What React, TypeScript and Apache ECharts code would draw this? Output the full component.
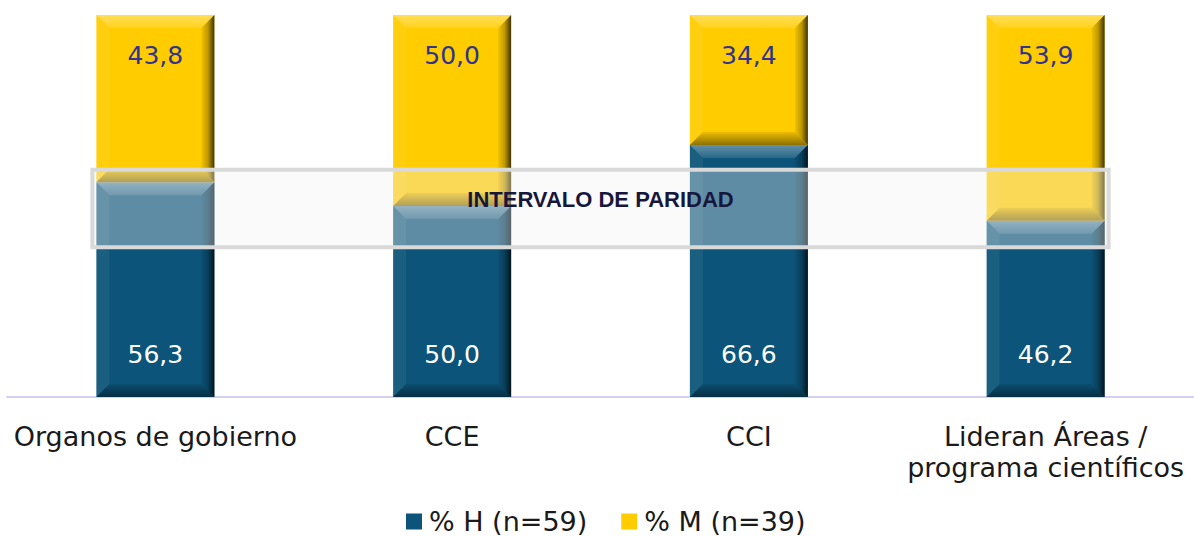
import React, { useEffect, useRef } from "react";
import * as echarts from "echarts";

const categories = [
  "Organos de gobierno",
  "CCE",
  "CCI",
  "Lideran Áreas /\nprograma científicos",
];
const hombres = [56.3, 50.0, 66.6, 46.2];
const mujeres = [43.8, 50.0, 34.4, 53.9];
const seriesNames = ["% H (n=59)", "% M (n=39)"];
const paridadMin = 40;
const paridadMax = 60;
const paridadText = "INTERVALO DE PARIDAD";

const BLUE = "#0c5479";
const YELLOW = "#ffcc00";
const BAR_W = 118;
const BEV = 13;

function fmt(v: number) {
  return v.toFixed(1).replace(".", ",");
}

export default function App() {
  const ref = useRef<HTMLDivElement>(null);
  useEffect(() => {
    if (!ref.current) return;
    const chart = echarts.init(ref.current, null, { renderer: "svg" });

    const totals = hombres.map((h, i) => h + mujeres[i]);
    const hN = hombres.map((h, i) => (h / totals[i]) * 100);
    const mN = mujeres.map((m, i) => (m / totals[i]) * 100);

    const segs: number[][] = [];
    categories.forEach((_, i) => {
      segs.push([i, 0, hN[i]]);
      segs.push([i, hN[i], hN[i] + mN[i]]);
    });

    const LG = echarts.graphic.LinearGradient;

    const bevelRender = (params: any, api: any) => {
      const i = api.value(0);
      const p0 = api.coord([i, api.value(1)]);
      const p1 = api.coord([i, api.value(2)]);
      const x = p0[0] - BAR_W / 2;
      const w = BAR_W;
      const y = p1[1];
      const h = p0[1] - p1[1];
      const b = Math.min(BEV, h / 2);
      return {
        type: "group",
        children: [
          {
            type: "polygon",
            shape: { points: [[x, y], [x + w, y], [x + w - b, y + b], [x + b, y + b]] },
            style: {
              fill: new LG(0, 0, 0, 1, [
                { offset: 0, color: "rgba(255,255,255,0.35)" },
                { offset: 1, color: "rgba(255,255,255,0.12)" },
              ]),
            },
          },
          {
            type: "polygon",
            shape: { points: [[x, y], [x + b, y + b], [x + b, y + h - b], [x, y + h]] },
            style: { fill: "rgba(255,255,255,0.06)" },
          },
          {
            type: "polygon",
            shape: { points: [[x, y + h], [x + w, y + h], [x + w - b, y + h - b], [x + b, y + h - b]] },
            style: {
              fill: new LG(0, 0, 0, 1, [
                { offset: 0, color: "rgba(0,0,0,0.08)" },
                { offset: 1, color: "rgba(0,0,0,0.45)" },
              ]),
            },
          },
          {
            type: "polygon",
            shape: { points: [[x + w, y], [x + w, y + h], [x + w - b, y + h - b], [x + w - b, y + b]] },
            style: {
              fill: new LG(0, 0, 1, 0, [
                { offset: 0, color: "rgba(0,0,0,0.05)" },
                { offset: 0.5, color: "rgba(0,0,0,0.25)" },
                { offset: 1, color: "rgba(0,0,0,0.75)" },
              ]),
            },
          },
        ],
      };
    };

    const paridadRender = (params: any, api: any) => {
      const pa = api.coord([0, api.value(0)]);
      const pb = api.coord([categories.length - 1, api.value(1)]);
      const x0 = pa[0] - BAR_W / 2 - 4;
      const x1 = pb[0] + BAR_W / 2 + 4;
      const yTop = pb[1] + 2;
      const yBot = pa[1] + 3;
      return {
        type: "group",
        children: [
          {
            type: "rect",
            shape: { x: x0, y: yTop, width: x1 - x0, height: yBot - yTop },
            style: { fill: "rgba(242,242,242,0.36)", stroke: "#d9d9d9", lineWidth: 4 },
          },
          {
            type: "text",
            style: {
              text: paridadText,
              x: (x0 + x1) / 2,
              y: (yTop + yBot) / 2 - 9,
              fill: "#17173d",
              font: "bold 22px 'Liberation Sans', Arial, sans-serif",
              align: "center",
              verticalAlign: "middle",
            },
          },
        ],
      };
    };

    chart.setOption({
      animation: false,
      grid: { left: 7, right: 0, top: 15, bottom: 139, containLabel: false },
      legend: {
        left: 401,
        top: 503,
        itemWidth: 16,
        itemHeight: 16,
        itemGap: 34,
        icon: "rect",
        data: seriesNames,
        textStyle: {
          fontFamily: "'DejaVu Sans', Verdana, sans-serif",
          fontSize: 27,
          color: "#1a1a1a",
          padding: [0, 0, 0, 2],
        },
      },
      xAxis: {
        type: "category",
        data: categories,
        axisLine: { show: true, lineStyle: { color: "#d4d0f2", width: 2 } },
        axisTick: { show: false },
        axisLabel: {
          interval: 0,
          margin: 24,
          fontFamily: "'DejaVu Sans', Verdana, sans-serif",
          fontSize: 27,
          lineHeight: 31,
          color: "#1a1a1a",
        },
      },
      yAxis: { type: "value", min: 0, max: 100, show: false, splitLine: { show: false } },
      series: [
        {
          name: seriesNames[0],
          type: "bar",
          stack: "total",
          barWidth: BAR_W,
          data: hN,
          itemStyle: { color: BLUE },
          z: 2,
          label: {
            show: true,
            position: "insideBottom",
            distance: 30,
            formatter: (p: any) => fmt(hombres[p.dataIndex]),
            color: "#ffffff",
            fontFamily: "'DejaVu Sans', Verdana, sans-serif",
            fontSize: 25,
          },
        },
        {
          name: seriesNames[1],
          type: "bar",
          stack: "total",
          barWidth: BAR_W,
          data: mN,
          itemStyle: { color: YELLOW },
          z: 2,
          label: {
            show: true,
            position: "insideTop",
            distance: 28,
            formatter: (p: any) => fmt(mujeres[p.dataIndex]),
            color: "#2f3490",
            fontFamily: "'DejaVu Sans', Verdana, sans-serif",
            fontSize: 25,
          },
        },
        {
          type: "custom",
          renderItem: bevelRender,
          data: segs,
          encode: { x: 0, y: [1, 2] },
          clip: false,
          silent: true,
          z: 3,
        },
        {
          type: "custom",
          renderItem: paridadRender,
          data: [[paridadMin, paridadMax]],
          encode: { y: [0, 1] },
          clip: false,
          silent: true,
          z: 5,
        },
      ],
    });
    return () => chart.dispose();
  }, []);
  return (
    <div
      ref={ref}
      style={{ position: "absolute", left: 0, top: 0, width: 1194, height: 536, background: "#fff" }}
    />
  );
}
